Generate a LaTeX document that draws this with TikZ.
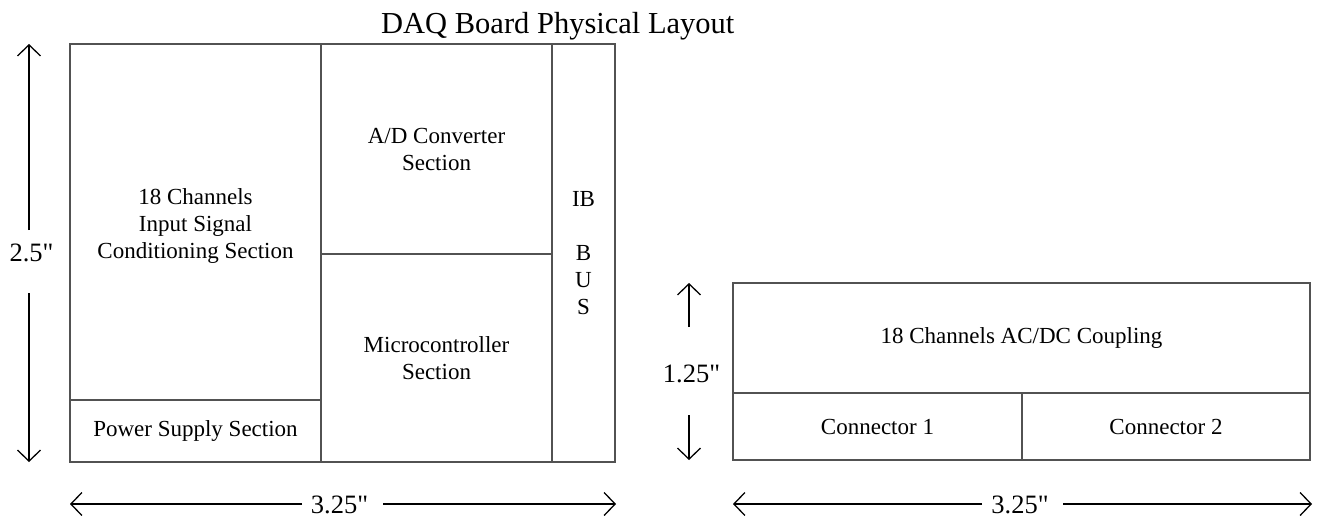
\documentclass[tikz,border=0pt]{standalone}
\usepackage{fontspec}
\setmainfont{Liberation Serif}
\newfontfamily\dimfont{Liberation Serif}
\usetikzlibrary{arrows.meta}
\begin{document}
\begin{tikzpicture}[x=1pt,y=-1pt,
  sec/.style={draw=black!68, line width=1.15pt, inner sep=0pt, align=center,
    font=\fontsize{23}{27}\selectfont},
  dimlabel/.style={inner sep=0pt, font=\dimfont\fontsize{26.5}{30}\selectfont},
  dimarrow/.style={draw=black, line width=1.3pt, -{Straight Barb[length=11pt,width=23pt,line width=1.3pt]}}]
\useasboundingbox[fill=white] (0,0) rectangle (1320,517);
% title
\node[inner sep=0pt, anchor=base west, font=\fontsize{30.5}{34}\selectfont] (title) at (381,33) {DAQ Board Physical Layout};
% left board
\node[sec, minimum width=251pt, minimum height=356pt] (inp) at (195.5,222) {};
\node[inner sep=0pt, align=center, font=\fontsize{23}{27}\selectfont] (inptext) at (195.5,226) {18 Channels\\Input Signal\\Conditioning Section};
\node[sec, minimum width=251pt, minimum height=62pt] (pwr) at (195.5,431) {Power Supply Section};
\node[sec, minimum width=231pt, minimum height=210pt] (adc) at (436.5,149) {A/D Converter\\Section};
\node[sec, minimum width=231pt, minimum height=208pt] (mcu) at (436.5,358) {Microcontroller\\Section};
\node[sec, minimum width=63pt, minimum height=418pt] (bus) at (583.5,253) {IB\\[27pt]B\\U\\S};
% right board
\node[sec, minimum width=577pt, minimum height=110pt] (cpl) at (1021.5,338) {18 Channels AC/DC Coupling};
\node[sec, minimum width=289pt, minimum height=67pt] (c1) at (877.5,426.5) {Connector 1};
\node[sec, minimum width=288pt, minimum height=67pt] (c2) at (1166,426.5) {Connector 2};
% left vertical dimension
\node[dimlabel, anchor=base] (dv1) at (31.5,261) {2.5"};
\coordinate (dv1a) at (29,230);
\coordinate (dv1top) at (29,44);
\coordinate (dv1b) at (29,293);
\coordinate (dv1bot) at (29,462);
\draw[dimarrow] (dv1a) -- (dv1top);
\draw[dimarrow] (dv1b) -- (dv1bot);
% right vertical dimension
\node[dimlabel, anchor=base] (dv2) at (691.5,382) {1.25"};
\coordinate (dv2a) at (689,327);
\coordinate (dv2top) at (689,283);
\coordinate (dv2b) at (689,415);
\coordinate (dv2bot) at (689,460);
\draw[dimarrow] (dv2a) -- (dv2top);
\draw[dimarrow] (dv2b) -- (dv2bot);
% left horizontal dimension
\node[dimlabel, anchor=base] (dh1) at (339.5,513) {3.25"};
\coordinate (dh1a) at (302,504);
\coordinate (dh1l) at (70,504);
\coordinate (dh1b) at (383,504);
\coordinate (dh1r) at (616,504);
\draw[dimarrow] (dh1a) -- (dh1l);
\draw[dimarrow] (dh1b) -- (dh1r);
% right horizontal dimension
\node[dimlabel, anchor=base] (dh2) at (1020,513) {3.25"};
\coordinate (dh2a) at (982,504);
\coordinate (dh2l) at (733,504);
\coordinate (dh2b) at (1063,504);
\coordinate (dh2r) at (1312,504);
\draw[dimarrow] (dh2a) -- (dh2l);
\draw[dimarrow] (dh2b) -- (dh2r);
\end{tikzpicture}
\end{document}
